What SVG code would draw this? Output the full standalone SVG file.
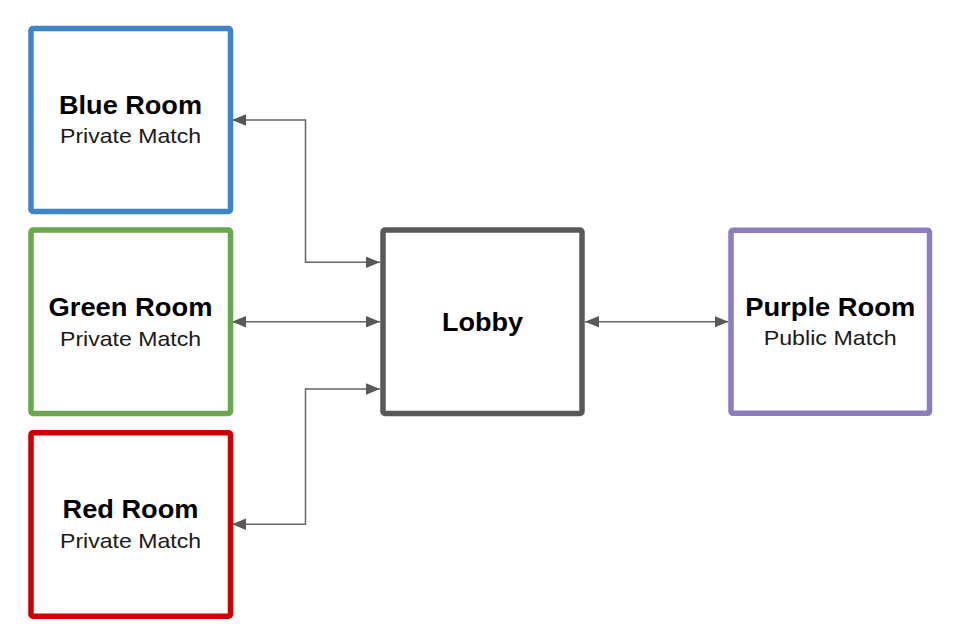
<svg xmlns="http://www.w3.org/2000/svg" width="966" height="642" viewBox="0 0 966 642">
<style>
.box{fill:#ffffff;stroke-width:5.5}
.t{font-family:"Liberation Sans",Arial,sans-serif;font-weight:bold;font-size:25px;fill:#000000;text-anchor:middle}
.s{font-family:"Liberation Sans",Arial,sans-serif;font-size:21px;fill:#1a1a1a;text-anchor:middle}
.c{fill:none;stroke:#666666;stroke-width:1.5;marker-start:url(#ah);marker-end:url(#ah)}
</style>
<defs>
<marker id="ah" markerUnits="userSpaceOnUse" markerWidth="14" markerHeight="12" refX="14" refY="5.7" orient="auto-start-reverse">
<path d="M0,0 L14,5.7 L0,11.4 z" fill="#595959"/>
</marker>
</defs>
<rect width="966" height="642" fill="#ffffff"/>
<g id="connectors">
<path class="c" d="M232,120 H305.5 V262.3 H380"/>
<path class="c" d="M232,321.8 H380"/>
<path class="c" d="M232,524.3 H305.5 V389 H380"/>
<path class="c" d="M585,321.8 H728.5"/>
</g>
<g id="blue">
<rect class="box" x="31" y="28.5" width="199.5" height="183" rx="2" stroke="#3d85c6"/>
<text class="t" x="130.5" y="113.7" textLength="143" lengthAdjust="spacingAndGlyphs">Blue Room</text>
<text class="s" x="130.5" y="143" textLength="141" lengthAdjust="spacingAndGlyphs">Private Match</text>
</g>
<g id="green">
<rect class="box" x="31" y="230" width="199.5" height="183.5" rx="2" stroke="#6aa84f"/>
<text class="t" x="130.5" y="316" textLength="164" lengthAdjust="spacingAndGlyphs">Green Room</text>
<text class="s" x="130.5" y="345.5" textLength="141" lengthAdjust="spacingAndGlyphs">Private Match</text>
</g>
<g id="red">
<rect class="box" x="31" y="432.7" width="199.5" height="183.5" rx="2" stroke="#cc0000"/>
<text class="t" x="130.5" y="518" textLength="136" lengthAdjust="spacingAndGlyphs">Red Room</text>
<text class="s" x="130.5" y="547.5" textLength="141" lengthAdjust="spacingAndGlyphs">Private Match</text>
</g>
<g id="lobby">
<rect class="box" x="383" y="230" width="199" height="183.5" rx="2" stroke="#595959"/>
<text class="t" x="482.5" y="330.5" textLength="81" lengthAdjust="spacingAndGlyphs">Lobby</text>
</g>
<g id="purple">
<rect class="box" x="731" y="230.3" width="198.5" height="183" rx="2" stroke="#8e7cc3"/>
<text class="t" x="830.2" y="316" textLength="170" lengthAdjust="spacingAndGlyphs">Purple Room</text>
<text class="s" x="830.2" y="345" textLength="133" lengthAdjust="spacingAndGlyphs">Public Match</text>
</g>
</svg>
